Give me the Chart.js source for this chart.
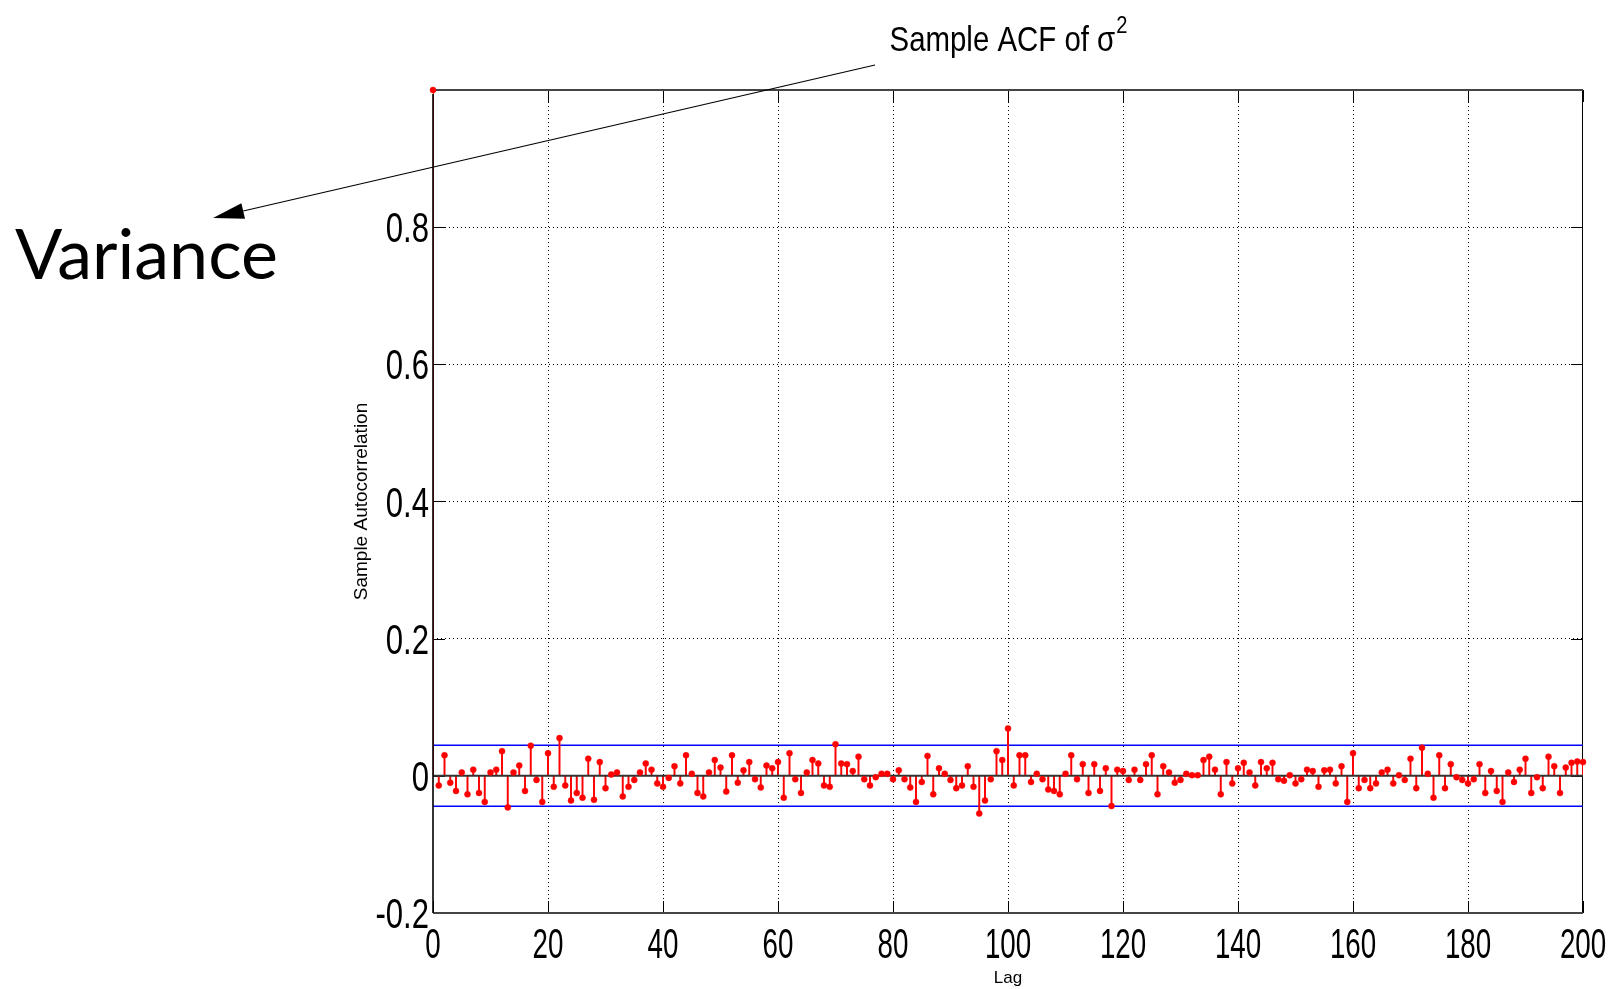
<!DOCTYPE html>
<html lang="en">
<head>
    <meta charset="UTF-8">
    <title>Sample ACF of sigma squared</title>
    <style>
        body {
            margin: 0;
            background-color: white;
        }
        canvas {
            display: block;
        }
    </style>
</head>
<body>
    <canvas id="acfChart" width="1610" height="989"></canvas>

    <script src="https://cdn.jsdelivr.net/npm/chart.js"></script>
    <script>
        // Sample autocorrelation of sigma^2, lags 0..200
        const acf = [
            1.0,
            -0.014, 0.030, -0.010, -0.022, 0.005, -0.027, 0.009, -0.025, -0.038, 0.005,
            0.009, 0.036, -0.046, 0.005, 0.015, -0.022, 0.044, -0.006, -0.038, 0.033,
            -0.016, 0.055, -0.014, -0.036, -0.025, -0.032, 0.025, -0.035, 0.020, -0.018,
            0.002, 0.005, -0.030, -0.016, -0.006, 0.005, 0.018, 0.009, -0.011, -0.016,
            -0.003, 0.014, -0.011, 0.030, 0.003, -0.025, -0.030, 0.005, 0.023, 0.012,
            -0.023, 0.030, -0.010, 0.008, 0.020, -0.005, -0.017, 0.015, 0.011, 0.020,
            -0.032, 0.033, -0.005, -0.025, 0.005, 0.023, 0.018, -0.014, -0.016, 0.046,
            0.018, 0.017, 0.007, 0.028, -0.005, -0.014, -0.002, 0.003, 0.003, -0.005,
            0.008, -0.005, -0.017, -0.038, -0.009, 0.029, -0.027, 0.011, 0.003, -0.006,
            -0.018, -0.014, 0.014, -0.016, -0.055, -0.036, -0.005, 0.036, 0.023, 0.069,
            -0.014, 0.030, 0.030, -0.009, 0.003, -0.005, -0.020, -0.022, -0.027, 0.003,
            0.030, -0.005, 0.017, -0.025, 0.017, -0.022, 0.011, -0.044, 0.009, 0.007,
            -0.006, 0.009, -0.006, 0.017, 0.030, -0.027, 0.014, 0.005, -0.010, -0.006,
            0.003, 0.001, 0.001, 0.023, 0.028, 0.009, -0.027, 0.020, -0.011, 0.011,
            0.019, 0.005, -0.014, 0.020, 0.011, 0.019, -0.005, -0.007, 0.001, -0.011,
            -0.005, 0.009, 0.007, -0.016, 0.008, 0.009, -0.011, 0.014, -0.038, 0.033,
            -0.018, -0.006, -0.018, -0.011, 0.005, 0.009, -0.011, 0.001, -0.006, 0.025,
            -0.018, 0.041, 0.003, -0.032, 0.030, -0.018, 0.017, -0.002, -0.006, -0.011,
            -0.005, 0.017, -0.025, 0.007, -0.022, -0.038, 0.005, -0.009, 0.009, 0.025,
            -0.025, -0.002, -0.018, 0.028, 0.014, -0.025, 0.012, 0.019, 0.021, 0.020
        ];

        // confidence bounds (blue lines) and the lag range they span
        const confBounds = [0.0445, -0.0445];
        const lagRange = [0, 200];

        // tick positions
        const xTicks = [0, 20, 40, 60, 80, 100, 120, 140, 160, 180, 200];
        const yTicks = [-0.2, 0, 0.2, 0.4, 0.6, 0.8];

        const sansFont = "'Liberation Sans', Arial, sans-serif";

        const points = acf.map((v, i) => ({ x: i, y: v }));

        // draws text squeezed horizontally (the original uses a condensed face)
        function squeezedText(ctx, text, x, y, squeeze) {
            ctx.save();
            ctx.translate(x, y);
            ctx.scale(squeeze, 1);
            ctx.fillText(text, 0, 0);
            ctx.restore();
        }

        // MATLAB style box with inward ticks
        const framePlugin = {
            id: 'matlabFrame',
            beforeDatasetsDraw(chart) {
                const { ctx, chartArea: a, scales: { x, y } } = chart;
                ctx.save();
                ctx.strokeStyle = '#000';
                ctx.lineWidth = 1;
                ctx.beginPath();
                xTicks.forEach(v => {
                    const px = Math.round(x.getPixelForValue(v)) + 0.5;
                    ctx.moveTo(px, a.bottom);
                    ctx.lineTo(px, a.bottom - 12);
                    ctx.moveTo(px, a.top);
                    ctx.lineTo(px, a.top + 12);
                });
                yTicks.forEach(v => {
                    const py = Math.round(y.getPixelForValue(v)) + 0.5;
                    ctx.moveTo(a.left, py);
                    ctx.lineTo(a.left + 12, py);
                    ctx.moveTo(a.right, py);
                    ctx.lineTo(a.right - 12, py);
                });
                ctx.moveTo(Math.round(a.right) - 0.5, a.top);
                ctx.lineTo(Math.round(a.right) - 0.5, a.bottom);
                ctx.stroke();

                ctx.strokeStyle = '#444';
                ctx.lineWidth = 2;
                ctx.beginPath();
                ctx.moveTo(a.left, Math.round(a.top));
                ctx.lineTo(a.right, Math.round(a.top));
                ctx.moveTo(a.left, Math.round(a.bottom));
                ctx.lineTo(a.right, Math.round(a.bottom));
                ctx.stroke();
                ctx.restore();
            },
            afterDatasetsDraw(chart) {
                // left axis line goes over the lag-0 stem, but not over its marker
                const { ctx, chartArea: a, scales: { x } } = chart;
                const px = x.getPixelForValue(lagRange[0]);
                ctx.save();
                ctx.strokeStyle = '#000';
                ctx.lineWidth = 1.6;
                ctx.beginPath();
                ctx.moveTo(px, a.top + 4);
                ctx.lineTo(px, a.bottom);
                ctx.stroke();
                ctx.restore();
            }
        };

        // tick labels, title, arrow and the "Variance" note
        const notesPlugin = {
            id: 'notes',
            afterDraw(chart) {
                const { ctx, chartArea: a, scales: { x, y } } = chart;
                ctx.save();
                ctx.fillStyle = '#000';
                ctx.textBaseline = 'alphabetic';

                // tick labels
                ctx.font = '42px ' + sansFont;
                ctx.textAlign = 'right';
                yTicks.forEach(v => {
                    squeezedText(ctx, String(v), a.left - 4, y.getPixelForValue(v) + 15, 0.74);
                });
                ctx.textAlign = 'center';
                xTicks.forEach(v => {
                    squeezedText(ctx, String(v), x.getPixelForValue(v), 958, 0.66);
                });

                // title
                ctx.textAlign = 'left';
                const squeeze = 0.84;
                ctx.font = '35px ' + sansFont;
                const main = 'Sample ACF of \u03c3';
                const w1 = ctx.measureText(main).width * squeeze;
                ctx.font = '24px ' + sansFont;
                const w2 = ctx.measureText('2').width * squeeze;
                const start = (a.left + a.right) / 2 - (w1 + w2) / 2;
                ctx.font = '35px ' + sansFont;
                squeezedText(ctx, main, start, 51, squeeze);
                ctx.font = '24px ' + sansFont;
                squeezedText(ctx, '2', start + w1 + 1, 33, squeeze);

                // arrow
                const from = [875, 65], tip = [213, 218];
                const ang = Math.atan2(tip[1] - from[1], tip[0] - from[0]);
                const len = 31, half = 8;
                const bx = tip[0] - len * Math.cos(ang), by = tip[1] - len * Math.sin(ang);
                ctx.strokeStyle = '#000';
                ctx.lineWidth = 1.2;
                ctx.beginPath();
                ctx.moveTo(from[0], from[1]);
                ctx.lineTo(bx, by);
                ctx.stroke();
                ctx.beginPath();
                ctx.moveTo(tip[0], tip[1]);
                ctx.lineTo(bx + half * Math.sin(ang), by - half * Math.cos(ang));
                ctx.lineTo(bx - half * Math.sin(ang), by + half * Math.cos(ang));
                ctx.closePath();
                ctx.fill();

                ctx.font = '70px Lato, sans-serif';
                ctx.fillText('Variance', 15, 279);
                ctx.restore();
            }
        };

        const ctx = document.getElementById('acfChart').getContext('2d');
        const acfChart = new Chart(ctx, {
            type: 'bar',
            data: {
                datasets: [
                    {
                        // markers
                        type: 'line',
                        data: points,
                        showLine: false,
                        pointRadius: 3,
                        pointBackgroundColor: '#ff0000',
                        pointBorderColor: '#ff0000',
                        pointBorderWidth: 0.5,
                        clip: false,
                        order: 0
                    },
                    {
                        // baseline at zero
                        type: 'line',
                        data: lagRange.map(v => ({ x: v, y: 0 })),
                        borderColor: '#333333',
                        borderWidth: 2,
                        pointRadius: 0,
                        order: 1
                    },
                    {
                        // stems
                        type: 'bar',
                        data: points,
                        backgroundColor: '#ff0000',
                        barThickness: 1.3,
                        order: 2
                    },
                    {
                        type: 'line',
                        data: lagRange.map(v => ({ x: v, y: confBounds[0] })),
                        borderColor: '#0000ff',
                        borderWidth: 1.5,
                        pointRadius: 0,
                        order: 3
                    },
                    {
                        type: 'line',
                        data: lagRange.map(v => ({ x: v, y: confBounds[1] })),
                        borderColor: '#0000ff',
                        borderWidth: 1.5,
                        pointRadius: 0,
                        order: 3
                    }
                ]
            },
            options: {
                responsive: false,
                animation: false,
                layout: {
                    padding: { top: 90, right: 27, bottom: 0, left: 0 }
                },
                plugins: {
                    legend: { display: false },
                    tooltip: { enabled: false }
                },
                scales: {
                    x: {
                        type: 'linear',
                        min: lagRange[0],
                        max: lagRange[1],
                        offset: false,
                        afterBuildTicks: s => { s.ticks = xTicks.map(v => ({ value: v })); },
                        afterFit: s => { s.height = 76; s.paddingLeft = 0; s.paddingRight = 0; },
                        grid: {
                            offset: false,
                            color: c => (c.tick && (c.tick.value === 0 || c.tick.value === 200)) ? 'rgba(0,0,0,0)' : '#000',
                            lineWidth: 1,
                            drawTicks: false
                        },
                        border: { display: false, dash: [1, 3] },
                        ticks: { display: false },
                        title: {
                            display: true,
                            text: 'Lag',
                            color: '#000',
                            font: { family: sansFont, size: 17 },
                            padding: 0
                        }
                    },
                    y: {
                        min: -0.2,
                        max: 1.0,
                        afterBuildTicks: s => { s.ticks = yTicks.map(v => ({ value: v })); },
                        afterFit: s => { s.width = 433; s.paddingTop = 0; s.paddingBottom = 0; },
                        grid: {
                            color: c => (c.tick && c.tick.value === -0.2) ? 'rgba(0,0,0,0)' : '#000',
                            lineWidth: 1,
                            drawTicks: false
                        },
                        border: { display: false, dash: [1, 3] },
                        ticks: { display: false },
                        title: {
                            display: true,
                            text: 'Sample Autocorrelation',
                            color: '#000',
                            font: { family: sansFont, size: 19 },
                            padding: { top: 350, bottom: 0 }
                        }
                    }
                }
            },
            plugins: [framePlugin, notesPlugin]
        });
    </script>
</body>
</html>
